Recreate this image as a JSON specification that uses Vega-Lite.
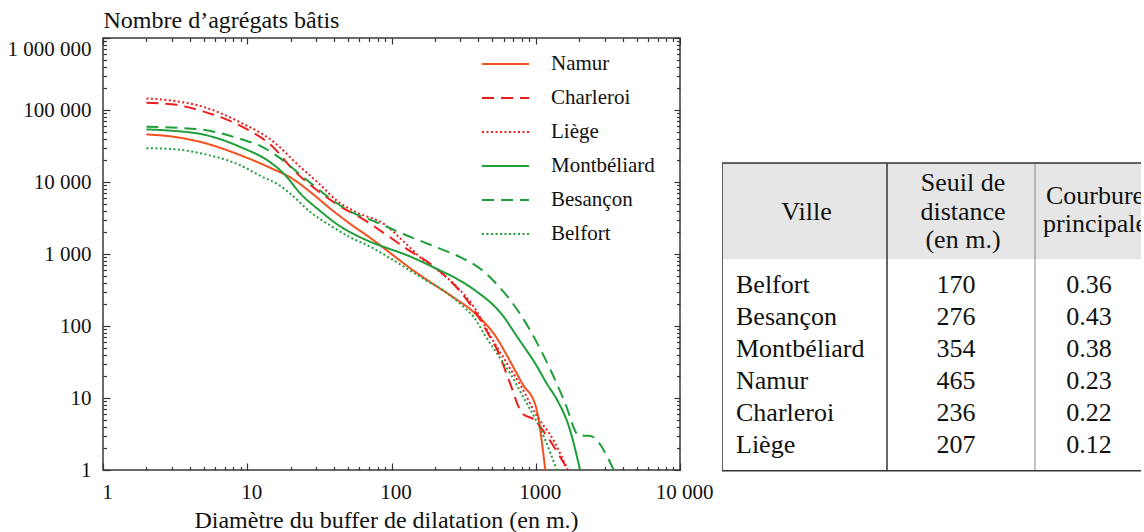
{
  "$schema": "https://vega.github.io/schema/vega-lite/v6.json",
  "padding": {"left": 6, "top": 7, "right": 0, "bottom": 0},
  "config": {
    "view": {"stroke": null},
    "font": "Liberation Serif",
    "axis": {"grid": false, "domain": false, "labelFont": "Liberation Serif", "titleFont": "Liberation Serif", "labelColor": "#111", "titleColor": "#111", "tickColor": "#333", "tickWidth": 1.2}
  },
  "datasets": {
    "courbes": [
      {"ville": "Namur", "d": 2, "n": 45800}, {"ville": "Namur", "d": 3, "n": 42800}, {"ville": "Namur", "d": 5, "n": 35000}, {"ville": "Namur", "d": 9, "n": 23500}, {"ville": "Namur", "d": 15, "n": 15200}, {"ville": "Namur", "d": 20, "n": 11500}, {"ville": "Namur", "d": 28, "n": 7000}, {"ville": "Namur", "d": 38, "n": 4200}, {"ville": "Namur", "d": 52, "n": 2600}, {"ville": "Namur", "d": 72, "n": 1650}, {"ville": "Namur", "d": 100, "n": 1000}, {"ville": "Namur", "d": 137, "n": 620}, {"ville": "Namur", "d": 188, "n": 400}, {"ville": "Namur", "d": 271, "n": 247}, {"ville": "Namur", "d": 375, "n": 153}, {"ville": "Namur", "d": 545, "n": 65}, {"ville": "Namur", "d": 640, "n": 37}, {"ville": "Namur", "d": 812, "n": 15.5}, {"ville": "Namur", "d": 1000, "n": 7.7}, {"ville": "Namur", "d": 1165, "n": 1},
      {"ville": "Charleroi", "d": 2, "n": 126000}, {"ville": "Charleroi", "d": 3, "n": 120000}, {"ville": "Charleroi", "d": 5, "n": 95000}, {"ville": "Charleroi", "d": 9, "n": 60000}, {"ville": "Charleroi", "d": 15, "n": 31000}, {"ville": "Charleroi", "d": 21, "n": 14500}, {"ville": "Charleroi", "d": 31, "n": 7500}, {"ville": "Charleroi", "d": 40, "n": 5200}, {"ville": "Charleroi", "d": 68, "n": 2800}, {"ville": "Charleroi", "d": 94, "n": 1800}, {"ville": "Charleroi", "d": 129, "n": 1160}, {"ville": "Charleroi", "d": 188, "n": 720}, {"ville": "Charleroi", "d": 300, "n": 300}, {"ville": "Charleroi", "d": 375, "n": 165}, {"ville": "Charleroi", "d": 465, "n": 80}, {"ville": "Charleroi", "d": 545, "n": 45}, {"ville": "Charleroi", "d": 656, "n": 17}, {"ville": "Charleroi", "d": 812, "n": 6}, {"ville": "Charleroi", "d": 977, "n": 5}, {"ville": "Charleroi", "d": 1150, "n": 3.3}, {"ville": "Charleroi", "d": 1670, "n": 1},
      {"ville": "Liège", "d": 2, "n": 145000}, {"ville": "Liège", "d": 3, "n": 135000}, {"ville": "Liège", "d": 5, "n": 110000}, {"ville": "Liège", "d": 9, "n": 67000}, {"ville": "Liège", "d": 15, "n": 37000}, {"ville": "Liège", "d": 23.6, "n": 15800}, {"ville": "Liège", "d": 31, "n": 9800}, {"ville": "Liège", "d": 42, "n": 5450}, {"ville": "Liège", "d": 58, "n": 3750}, {"ville": "Liège", "d": 89, "n": 2600}, {"ville": "Liège", "d": 123, "n": 1450}, {"ville": "Liège", "d": 169, "n": 800}, {"ville": "Liège", "d": 220, "n": 550}, {"ville": "Liège", "d": 288, "n": 340}, {"ville": "Liège", "d": 375, "n": 180}, {"ville": "Liège", "d": 490, "n": 70}, {"ville": "Liège", "d": 640, "n": 29}, {"ville": "Liège", "d": 800, "n": 14}, {"ville": "Liège", "d": 1000, "n": 6}, {"ville": "Liège", "d": 1340, "n": 2.5}, {"ville": "Liège", "d": 1667, "n": 1},
      {"ville": "Montbéliard", "d": 2, "n": 53700}, {"ville": "Montbéliard", "d": 3, "n": 51500}, {"ville": "Montbéliard", "d": 5, "n": 45500}, {"ville": "Montbéliard", "d": 9, "n": 30500}, {"ville": "Montbéliard", "d": 14.6, "n": 18500}, {"ville": "Montbéliard", "d": 18.1, "n": 12800}, {"ville": "Montbéliard", "d": 23.6, "n": 6750}, {"ville": "Montbéliard", "d": 31, "n": 4180}, {"ville": "Montbéliard", "d": 42, "n": 2590}, {"ville": "Montbéliard", "d": 61.5, "n": 1685}, {"ville": "Montbéliard", "d": 99, "n": 1160}, {"ville": "Montbéliard", "d": 110, "n": 1080}, {"ville": "Montbéliard", "d": 209, "n": 613}, {"ville": "Montbéliard", "d": 288, "n": 445}, {"ville": "Montbéliard", "d": 385, "n": 306}, {"ville": "Montbéliard", "d": 574, "n": 150}, {"ville": "Montbéliard", "d": 750, "n": 69}, {"ville": "Montbéliard", "d": 1032, "n": 26.4}, {"ville": "Montbéliard", "d": 1178, "n": 16.5}, {"ville": "Montbéliard", "d": 1419, "n": 9.1}, {"ville": "Montbéliard", "d": 1692, "n": 4.1}, {"ville": "Montbéliard", "d": 2030, "n": 1},
      {"ville": "Besançon", "d": 2, "n": 58600}, {"ville": "Besançon", "d": 3, "n": 57000}, {"ville": "Besançon", "d": 5, "n": 53000}, {"ville": "Besançon", "d": 9, "n": 39500}, {"ville": "Besançon", "d": 12.4, "n": 31600}, {"ville": "Besançon", "d": 16.7, "n": 21800}, {"ville": "Besançon", "d": 25.5, "n": 10900}, {"ville": "Besançon", "d": 51, "n": 3960}, {"ville": "Besançon", "d": 80, "n": 2720}, {"ville": "Besançon", "d": 122, "n": 1878}, {"ville": "Besançon", "d": 209, "n": 1224}, {"ville": "Besançon", "d": 288, "n": 938}, {"ville": "Besançon", "d": 417, "n": 614}, {"ville": "Besançon", "d": 605, "n": 290}, {"ville": "Besançon", "d": 674, "n": 222}, {"ville": "Besançon", "d": 769, "n": 153}, {"ville": "Besançon", "d": 1032, "n": 56}, {"ville": "Besançon", "d": 1276, "n": 23.7}, {"ville": "Besançon", "d": 1578, "n": 9.1}, {"ville": "Besançon", "d": 2005, "n": 3}, {"ville": "Besançon", "d": 2350, "n": 3}, {"ville": "Besançon", "d": 3470, "n": 1},
      {"ville": "Belfort", "d": 2, "n": 29500}, {"ville": "Belfort", "d": 3, "n": 28700}, {"ville": "Belfort", "d": 5, "n": 24500}, {"ville": "Belfort", "d": 9, "n": 17000}, {"ville": "Belfort", "d": 12.4, "n": 12100}, {"ville": "Belfort", "d": 16.3, "n": 9300}, {"ville": "Belfort", "d": 20.1, "n": 6750}, {"ville": "Belfort", "d": 27.7, "n": 3750}, {"ville": "Belfort", "d": 38.1, "n": 2450}, {"ville": "Belfort", "d": 52.4, "n": 1685}, {"ville": "Belfort", "d": 72, "n": 1250}, {"ville": "Belfort", "d": 100, "n": 850}, {"ville": "Belfort", "d": 169, "n": 445}, {"ville": "Belfort", "d": 232, "n": 306}, {"ville": "Belfort", "d": 320, "n": 180}, {"ville": "Belfort", "d": 375, "n": 130}, {"ville": "Belfort", "d": 440, "n": 77}, {"ville": "Belfort", "d": 545, "n": 40}, {"ville": "Belfort", "d": 674, "n": 21}, {"ville": "Belfort", "d": 850, "n": 9}, {"ville": "Belfort", "d": 1000, "n": 5}, {"ville": "Belfort", "d": 1147, "n": 2.8}, {"ville": "Belfort", "d": 1397, "n": 1}
    ],
    "tableau": [
      {"rang": 0, "ville": "Belfort", "seuil": 170, "courbure": 0.36},
      {"rang": 1, "ville": "Besançon", "seuil": 276, "courbure": 0.43},
      {"rang": 2, "ville": "Montbéliard", "seuil": 354, "courbure": 0.38},
      {"rang": 3, "ville": "Namur", "seuil": 465, "courbure": 0.23},
      {"rang": 4, "ville": "Charleroi", "seuil": 236, "courbure": 0.22},
      {"rang": 5, "ville": "Liège", "seuil": 207, "courbure": 0.12}
    ],
    "entetes": [
      {"col": 0, "texte": "Ville"},
      {"col": 1, "texte": "Seuil de\ndistance\n(en m.)"},
      {"col": 2, "texte": "Courbure\nprincipale"}
    ]
  },
  "spacing": 8,
  "hconcat": [
    {
      "width": 577,
      "height": 432,
      "view": {"stroke": "#3a3a3a", "strokeWidth": 1.5},
      "data": {"name": "courbes"},
      "resolve": {"axis": {"x": "independent", "y": "independent"}},
      "layer": [
        {
          "mark": {"type": "line", "strokeWidth": 2, "interpolate": "monotone", "clip": true},
          "encoding": {
            "x": {
              "field": "d", "type": "quantitative",
              "scale": {"type": "log", "domain": [1, 10000], "nice": false},
              "axis": {"orient": "bottom", "values": [1, 10, 100, 1000, 10000], "labelExpr": "datum.value == 10000 ? '10 000' : format(datum.value, 'd')", "tickSize": -7, "labelPadding": 18, "labelFontSize": 21, "labelOffset": 4, "labelFlush": false, "labelOverlap": false, "title": "Diamètre du buffer de dilatation (en m.)", "titleFontSize": 24, "titleFontWeight": "normal", "titleAlign": "center", "titleBaseline": "alphabetic", "titleAngle": 0, "titleX": 283, "titleY": 57}
            },
            "y": {
              "field": "n", "type": "quantitative",
              "scale": {"type": "log", "domain": [1, 1000000], "nice": false},
              "axis": {"orient": "left", "values": [1, 10, 100, 1000, 10000, 100000, 1000000], "labelExpr": "replace(replace(format(datum.value, ','), ',', ' '), ',', ' ')", "labelBaseline": {"condition": {"test": "datum.value == 1000000", "value": "top"}, "value": "middle"}, "tickSize": -7, "labelPadding": 19, "labelFontSize": 21, "labelFlush": false, "labelOverlap": false, "title": "Nombre d’agrégats bâtis", "titleAngle": 0, "titleAlign": "left", "titleBaseline": "alphabetic", "titleX": 0, "titleY": -11, "titleFontSize": 24, "titleFontWeight": "normal"}
            },
            "color": {
              "field": "ville", "type": "nominal",
              "scale": {"domain": ["Namur", "Charleroi", "Liège", "Montbéliard", "Besançon", "Belfort"], "range": ["#f4511e", "#ee1c1c", "#ee1c1c", "#1f9e3a", "#1f9e3a", "#1f9e3a"]},
              "legend": {"orient": "none", "legendX": 378, "legendY": 16, "title": null, "padding": 0, "symbolType": "stroke", "symbolSize": 2209, "symbolStrokeWidth": 2, "clipHeight": 20, "rowPadding": 13, "labelOffset": 21, "labelFontSize": 21, "labelFont": "Liberation Serif", "labelColor": "#111", "labelLimit": 300}
            },
            "strokeDash": {
              "field": "ville", "type": "nominal",
              "scale": {"domain": ["Namur", "Charleroi", "Liège", "Montbéliard", "Besançon", "Belfort"], "range": [[1, 0], [12, 7], [2, 2.5], [1, 0], [12, 7], [2, 2.5]]},
              "legend": {"orient": "none", "legendX": 378, "legendY": 16, "title": null, "padding": 0, "symbolType": "stroke", "symbolSize": 2209, "symbolStrokeWidth": 2, "clipHeight": 20, "rowPadding": 13, "labelOffset": 21, "labelFontSize": 21, "labelFont": "Liberation Serif", "labelColor": "#111", "labelLimit": 300}
            }
          }
        },
        {
          "mark": {"type": "point", "opacity": 0},
          "encoding": {
            "x": {"field": "d", "type": "quantitative", "axis": {"orient": "bottom", "values": [2,3,4,5,6,7,8,9,20,30,40,50,60,70,80,90,200,300,400,500,600,700,800,900,2000,3000,4000,5000,6000,7000,8000,9000], "labels": false, "tickSize": -3.5, "title": null}},
            "y": {"field": "n", "type": "quantitative", "axis": {"orient": "left", "values": [2,3,4,5,6,7,8,9,20,30,40,50,60,70,80,90,200,300,400,500,600,700,800,900,2000,3000,4000,5000,6000,7000,8000,9000,20000,30000,40000,50000,60000,70000,80000,90000,200000,300000,400000,500000,600000,700000,800000,900000], "labels": false, "tickSize": -3.5, "title": null}}
          }
        },
        {
          "mark": {"type": "point", "opacity": 0},
          "encoding": {
            "x": {"field": "d", "type": "quantitative", "axis": {"orient": "top", "values": [1, 10, 100, 1000, 10000], "labels": false, "tickSize": -6, "title": null}},
            "y": {"field": "n", "type": "quantitative", "axis": {"orient": "right", "values": [1, 10, 100, 1000, 10000, 100000, 1000000], "labels": false, "tickSize": -6, "title": null}}
          }
        },
        {
          "mark": {"type": "point", "opacity": 0},
          "encoding": {
            "x": {"field": "d", "type": "quantitative", "axis": {"orient": "top", "values": [2,3,4,5,6,7,8,9,20,30,40,50,60,70,80,90,200,300,400,500,600,700,800,900,2000,3000,4000,5000,6000,7000,8000,9000], "labels": false, "tickSize": -3.5, "title": null}},
            "y": {"field": "n", "type": "quantitative", "axis": {"orient": "right", "values": [2,3,4,5,6,7,8,9,20,30,40,50,60,70,80,90,200,300,400,500,600,700,800,900,2000,3000,4000,5000,6000,7000,8000,9000,20000,30000,40000,50000,60000,70000,80000,90000,200000,300000,400000,500000,600000,700000,800000,900000], "labels": false, "tickSize": -3.5, "title": null}}
          }
        }
      ]
    },
    {
      "width": 419,
      "height": 436,
      "view": {"stroke": null},
      "layer": [
        {
          "data": {"values": [{}]},
          "mark": {"type": "rect", "fill": "#e6e6e6", "clip": true},
          "encoding": {
            "x": {"datum": -0.5, "type": "quantitative", "scale": {"domain": [-0.5, 0.5, 1.5, 2.5], "range": [0, 165, 313, 429], "nice": false, "zero": false}, "axis": null},
            "x2": {"datum": 2.5},
            "y": {"datum": -3.8, "type": "quantitative", "scale": {"domain": [-7.7, 5.9], "range": [0, 436], "nice": false, "zero": false}, "axis": null},
            "y2": {"datum": -0.8}
          }
        },
        {
          "data": {"values": [{}]},
          "mark": {"type": "rule", "stroke": "#333", "strokeWidth": 1.5, "clip": true},
          "encoding": {
            "x": {"datum": 0.5, "type": "quantitative"},
            "y": {"datum": -3.8, "type": "quantitative"},
            "y2": {"datum": 5.8}
          }
        },
        {
          "data": {"values": [{}]},
          "mark": {"type": "rule", "stroke": "#8a8a8a", "strokeWidth": 1, "clip": true},
          "encoding": {
            "x": {"datum": 1.5, "type": "quantitative"},
            "y": {"datum": -3.8, "type": "quantitative"},
            "y2": {"datum": 5.8}
          }
        },
        {
          "data": {"values": [{}]},
          "mark": {"type": "rect", "fillOpacity": 0, "stroke": "#333", "strokeWidth": 1.5, "clip": true},
          "encoding": {
            "x": {"datum": -0.5, "type": "quantitative"},
            "x2": {"datum": 2.5},
            "y": {"datum": -3.8, "type": "quantitative"},
            "y2": {"datum": 5.8}
          }
        },
        {
          "data": {"name": "entetes"},
          "transform": [{"filter": "datum.col == 0"}],
          "mark": {"type": "text", "fontSize": 26, "font": "Liberation Serif", "color": "#111", "align": "center", "baseline": "middle", "dx": 2, "clip": true},
          "encoding": {
            "x": {"field": "col", "type": "quantitative"},
            "y": {"datum": -2.28, "type": "quantitative"},
            "text": {"field": "texte", "type": "nominal"}
          }
        },
        {
          "data": {"name": "entetes"},
          "transform": [{"filter": "datum.col == 1"}],
          "mark": {"type": "text", "fontSize": 26, "font": "Liberation Serif", "color": "#111", "align": "center", "baseline": "middle", "lineBreak": "\n", "lineHeight": 28.5, "dy": -28.5, "dx": 2, "clip": true},
          "encoding": {
            "x": {"field": "col", "type": "quantitative"},
            "y": {"datum": -2.28, "type": "quantitative"},
            "text": {"field": "texte", "type": "nominal"}
          }
        },
        {
          "data": {"name": "entetes"},
          "transform": [{"filter": "datum.col == 2"}],
          "mark": {"type": "text", "fontSize": 26, "font": "Liberation Serif", "color": "#111", "align": "center", "baseline": "middle", "lineBreak": "\n", "lineHeight": 28.5, "dy": -16, "dx": 2, "clip": true},
          "encoding": {
            "x": {"field": "col", "type": "quantitative"},
            "y": {"datum": -2.28, "type": "quantitative"},
            "text": {"field": "texte", "type": "nominal"}
          }
        },
        {
          "data": {"name": "tableau"},
          "mark": {"type": "text", "fontSize": 26, "font": "Liberation Serif", "color": "#111", "align": "left", "baseline": "middle", "dx": 14, "clip": true},
          "encoding": {
            "x": {"datum": -0.5, "type": "quantitative"},
            "y": {"field": "rang", "type": "quantitative"},
            "text": {"field": "ville", "type": "nominal"}
          }
        },
        {
          "data": {"name": "tableau"},
          "mark": {"type": "text", "fontSize": 26, "font": "Liberation Serif", "color": "#111", "align": "center", "baseline": "middle", "dx": -5, "clip": true},
          "encoding": {
            "x": {"datum": 1, "type": "quantitative"},
            "y": {"field": "rang", "type": "quantitative"},
            "text": {"field": "seuil", "type": "quantitative", "format": "d"}
          }
        },
        {
          "data": {"name": "tableau"},
          "mark": {"type": "text", "fontSize": 26, "font": "Liberation Serif", "color": "#111", "align": "center", "baseline": "middle", "dx": -4, "clip": true},
          "encoding": {
            "x": {"datum": 2, "type": "quantitative"},
            "y": {"field": "rang", "type": "quantitative"},
            "text": {"field": "courbure", "type": "quantitative", "format": ".2f"}
          }
        }
      ]
    }
  ]
}
